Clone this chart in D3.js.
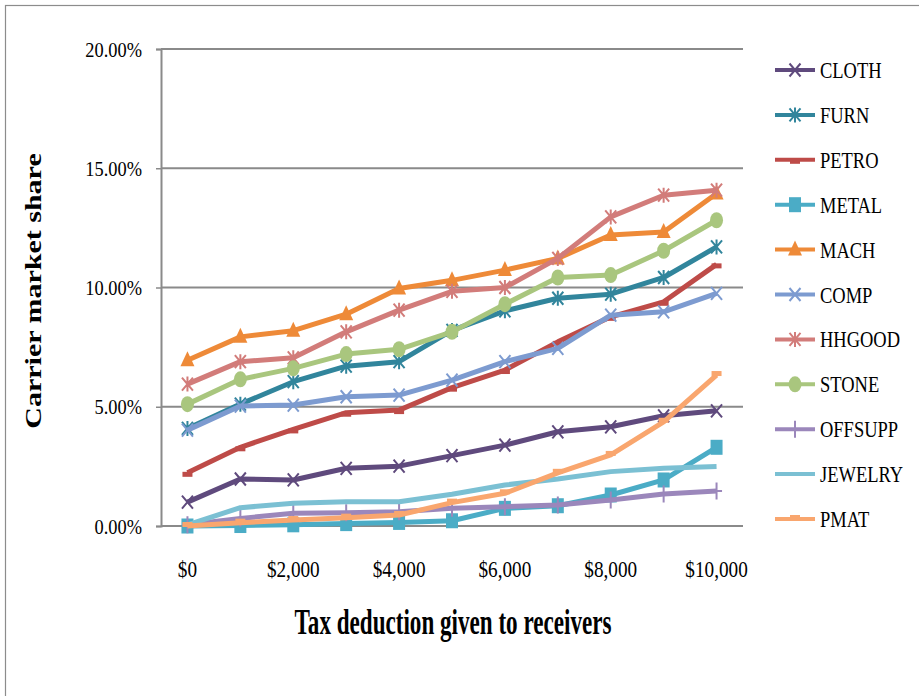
<!DOCTYPE html>
<html><head><meta charset="utf-8">
<script src="https://cdn.jsdelivr.net/npm/d3@7"></script>
<style>body{margin:0;background:#fff;} svg{display:block;}</style>
</head><body>
<svg id="c" width="919" height="696"></svg>
<script>
const categories = [0,1000,2000,3000,4000,5000,6000,7000,8000,9000,10000];
const xTickLabels = ["$0","$2,000","$4,000","$6,000","$8,000","$10,000"];
const yTicks = [0,0.05,0.10,0.15,0.20];
const seriesNames = ["CLOTH","FURN","PETRO","METAL","MACH","COMP","HHGOOD","STONE","OFFSUPP","JEWELRY","PMAT"];
const CLOTH   = [1.00,1.97,1.93,2.42,2.51,2.95,3.39,3.95,4.16,4.62,4.83];
const FURN    = [4.09,5.11,6.05,6.70,6.89,8.20,9.02,9.55,9.72,10.42,11.70];
const PETRO   = [2.23,3.30,4.05,4.75,4.86,5.80,6.54,7.72,8.77,9.40,10.97];
const METAL   = [0.00,0.02,0.05,0.10,0.15,0.22,0.74,0.85,1.30,1.93,3.30];
const MACH    = [6.95,7.93,8.19,8.88,9.96,10.30,10.73,11.22,12.20,12.33,13.94];
const COMP    = [4.02,5.03,5.07,5.42,5.49,6.12,6.89,7.45,8.84,8.98,9.75];
const HHGOOD  = [5.95,6.89,7.05,8.14,9.05,9.84,10.00,11.22,12.96,13.87,14.08];
const STONE   = [5.11,6.15,6.61,7.21,7.41,8.14,9.30,10.42,10.52,11.54,12.82];
const OFFSUPP = [0.05,0.32,0.53,0.56,0.60,0.74,0.81,0.88,1.09,1.34,1.47];
const JEWELRY = [0.05,0.77,0.95,1.02,1.02,1.33,1.72,1.97,2.28,2.42,2.49];
const PMAT    = [0.00,0.14,0.25,0.35,0.46,0.98,1.37,2.23,2.98,4.37,6.33];
const seriesValues = [CLOTH,FURN,PETRO,METAL,MACH,COMP,HHGOOD,STONE,OFFSUPP,JEWELRY,PMAT];

const colors = ["#5F4A7D","#31859C","#BE4B48","#4BACC6","#EE8A38","#7D9BD0","#D27C7A","#A9C67E","#9B87BB","#7BC0D3","#F9A66E"];
const markers = ["x","star","dash","square","triangle","x","star","circle","plus","none","dash2"];

const svg = d3.select("#c");
const SX = 0.8; // horizontal compression of glyphs
svg.append("rect").attr("x",5.5).attr("y",5.5).attr("width",1000).attr("height",1000)
  .attr("fill","#fff").attr("stroke","#8c8c8c").attr("stroke-width",1.2);

const plot = {left:161, right:743, top:49, bottom:526};
const x = d3.scaleBand().domain(categories).range([plot.left, plot.right]).padding(0);
const cx = d => x(d) + x.bandwidth()/2;
const y = d3.scaleLinear().domain([0,0.20]).range([plot.bottom, plot.top]);

// gridlines
const grid = svg.append("g");
grid.selectAll("line").data(yTicks).join("line")
  .attr("x1",plot.left).attr("x2",plot.right)
  .attr("y1",d=>y(d)).attr("y2",d=>y(d))
  .attr("stroke","#8a8a8a").attr("stroke-width",2);

// y axis
const yAxis = d3.axisLeft(y).tickValues(yTicks).tickFormat(d3.format(".2%")).tickSize(5).tickPadding(0);
const ya = svg.append("g").attr("transform",`translate(${plot.left},0)`).call(yAxis);
ya.select(".domain").attr("stroke","#8a8a8a").attr("stroke-width",2);
ya.selectAll(".tick line").attr("stroke","#8a8a8a").attr("stroke-width",1.5);
ya.selectAll(".tick text").attr("x",0).attr("dy",0)
  .attr("transform","translate(-19,7) scale(0.92,1)")
  .attr("font-family","Liberation Serif").attr("font-size",20).attr("fill","#000");

// x axis labels
const xa = d3.axisBottom(x).tickValues(categories.filter((d,i)=>i%2===0))
  .tickFormat((d,i)=>xTickLabels[i]).tickSize(0);
const xg = svg.append("g").attr("transform",`translate(0,${plot.bottom})`).call(xa);
xg.select(".domain").remove();
xg.selectAll(".tick text").attr("y",0).attr("dy",0)
  .attr("transform",`translate(0,51) scale(${SX},1)`)
  .attr("font-family","Liberation Serif").attr("font-size",24).attr("fill","#000");

// titles
svg.append("text").attr("transform",`translate(453,634) scale(0.66,1)`)
  .attr("text-anchor","middle").attr("font-family","Liberation Serif").attr("font-weight","bold")
  .attr("font-size",35).text("Tax deduction given to receivers");
svg.append("text").attr("transform",`translate(41,291) scale(${SX},1) rotate(-90)`)
  .attr("text-anchor","middle").attr("font-family","Liberation Serif").attr("font-weight","bold")
  .attr("font-size",30).text("Carrier market  share");

function drawMarker(g, type, color, px, py){
  const s = 6.5, w = 5.5;
  if(type==="x"){
    g.append("path").attr("d",`M${px-w},${py-s}L${px+w},${py+s}M${px-w},${py+s}L${px+w},${py-s}`)
      .attr("stroke",color).attr("stroke-width",2).attr("fill","none");
  } else if(type==="star"){
    g.append("path").attr("d",`M${px-w},${py-s}L${px+w},${py+s}M${px-w},${py+s}L${px+w},${py-s}M${px},${py-s-1}L${px},${py+s+1}`)
      .attr("stroke",color).attr("stroke-width",2).attr("fill","none");
  } else if(type==="plus"){
    g.append("path").attr("d",`M${px},${py-s-2}L${px},${py+s+2}M${px-w},${py}L${px+w},${py}`)
      .attr("stroke",color).attr("stroke-width",2).attr("fill","none");
  } else if(type==="dash"){
    g.append("rect").attr("x",px-5).attr("y",py-1).attr("width",10).attr("height",5).attr("fill",color);
  } else if(type==="dash2"){
    g.append("rect").attr("x",px-5).attr("y",py-4).attr("width",10).attr("height",5).attr("fill",color);
  } else if(type==="square"){
    g.append("rect").attr("x",px-6).attr("y",py-7.5).attr("width",12).attr("height",15).attr("fill",color);
  } else if(type==="triangle"){
    g.append("path").attr("d",`M${px},${py-9}L${px+7},${py+6}L${px-7},${py+6}Z`).attr("fill",color);
  } else if(type==="circle"){
    g.append("ellipse").attr("cx",px).attr("cy",py).attr("rx",6.5).attr("ry",8).attr("fill",color);
  }
}

const line = d3.line().x((d,i)=>cx(categories[i])).y(d=>y(d/100));
seriesNames.forEach((name,si)=>{
  const g = svg.append("g");
  g.append("path").datum(seriesValues[si]).attr("d",line)
    .attr("fill","none").attr("stroke",colors[si]).attr("stroke-width",5)
    .attr("stroke-linejoin","round");
  seriesValues[si].forEach((v,i)=>drawMarker(g, markers[si], colors[si], cx(categories[i]), y(v/100)));
});

// legend
const legY0 = 70, legDY = 44.9;
seriesNames.forEach((name,si)=>{
  const g = svg.append("g");
  const ly = legY0 + si*legDY;
  g.append("line").attr("x1",775).attr("x2",815).attr("y1",ly).attr("y2",ly)
    .attr("stroke",colors[si]).attr("stroke-width",4);
  drawMarker(g, markers[si], colors[si], 795, ly);
  g.append("text").attr("transform",`translate(820,${ly+8}) scale(0.77,1)`)
    .attr("font-family","Liberation Serif").attr("font-size",24).attr("fill","#000").text(name);
});
</script>
</body></html>
